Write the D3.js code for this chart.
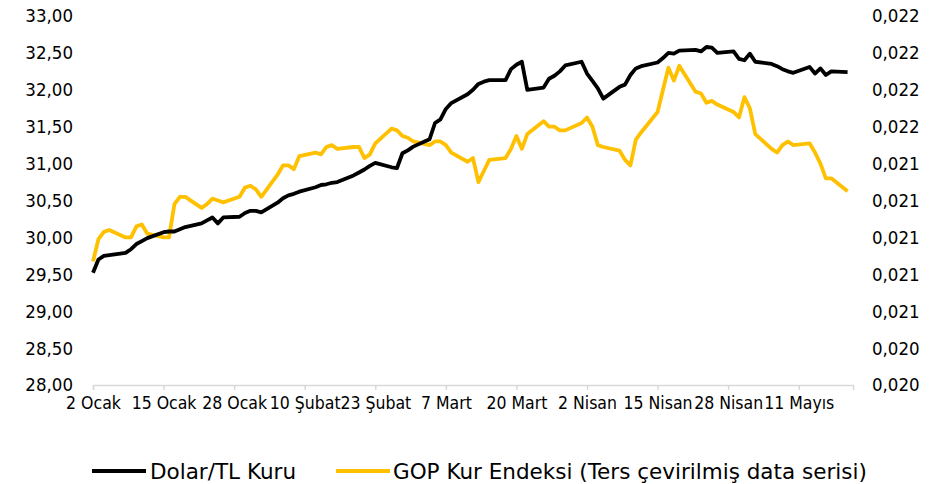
<!DOCTYPE html>
<html><head><meta charset="utf-8">
<script src="https://cdn.jsdelivr.net/npm/d3@7"></script>
<style>
html,body{margin:0;padding:0;background:#fff;}
text{font-family:"DejaVu Sans Condensed","DejaVu Sans",sans-serif;fill:#000;}
</style></head><body>
<svg id="chart" width="939" height="484"></svg>
<script>
const dates = ["2024-01-02","2024-01-03","2024-01-04","2024-01-05","2024-01-08","2024-01-09","2024-01-10","2024-01-11","2024-01-12",
"2024-01-15","2024-01-16","2024-01-17","2024-01-18","2024-01-19","2024-01-22","2024-01-23","2024-01-24","2024-01-25","2024-01-26",
"2024-01-29","2024-01-30","2024-01-31","2024-02-01","2024-02-02","2024-02-05","2024-02-06","2024-02-07","2024-02-08","2024-02-09",
"2024-02-12","2024-02-13","2024-02-14","2024-02-15","2024-02-16","2024-02-19","2024-02-20","2024-02-21","2024-02-22","2024-02-23",
"2024-02-26","2024-02-27","2024-02-28","2024-02-29","2024-03-01","2024-03-04","2024-03-05","2024-03-06","2024-03-07","2024-03-08",
"2024-03-11","2024-03-12","2024-03-13","2024-03-14","2024-03-15","2024-03-18","2024-03-19","2024-03-20","2024-03-21","2024-03-22",
"2024-03-25","2024-03-26","2024-03-27","2024-03-28","2024-03-29","2024-04-01","2024-04-02","2024-04-03","2024-04-04","2024-04-05",
"2024-04-08","2024-04-09","2024-04-10","2024-04-11","2024-04-12","2024-04-15","2024-04-16","2024-04-17","2024-04-18","2024-04-19",
"2024-04-22","2024-04-23","2024-04-24","2024-04-25","2024-04-26","2024-04-29","2024-04-30","2024-05-01","2024-05-02","2024-05-03",
"2024-05-06","2024-05-07","2024-05-08","2024-05-09","2024-05-10","2024-05-13","2024-05-14","2024-05-15","2024-05-16","2024-05-17",
"2024-05-20"];
const usdTry = [29.52,29.70,29.75,29.76,29.79,29.84,29.91,29.95,29.99,
30.07,30.08,30.08,30.11,30.14,30.19,30.23,30.27,30.19,30.27,
30.28,30.33,30.36,30.36,30.34,30.47,30.53,30.57,30.59,30.62,
30.68,30.71,30.72,30.74,30.75,30.84,30.88,30.92,30.97,31.01,
30.95,30.94,31.14,31.18,31.23,31.33,31.55,31.60,31.74,31.82,
31.94,32.00,32.08,32.11,32.13,32.13,32.28,32.34,32.38,32.00,
32.03,32.15,32.19,32.25,32.33,32.38,32.22,32.12,32.02,31.88,
32.04,32.07,32.20,32.29,32.32,32.37,32.43,32.50,32.49,32.53,
32.54,32.52,32.58,32.57,32.50,32.52,32.42,32.40,32.49,32.38,
32.35,32.32,32.28,32.25,32.23,32.31,32.22,32.29,32.20,32.25,
32.24];
const gopIndex = [0.02087,0.02099,0.02103,0.02104,0.02100,0.02100,0.02106,0.02107,0.02102,
0.02100,0.02100,0.02118,0.02122,0.02122,0.02116,0.02118,0.02121,0.02120,0.02119,
0.02122,0.02127,0.02128,0.02126,0.02122,0.02134,0.02139,0.02139,0.02137,0.02144,
0.02146,0.02145,0.02149,0.02150,0.02148,0.02149,0.02149,0.02143,0.02145,0.02151,
0.02159,0.02158,0.02155,0.02154,0.02152,0.02150,0.02152,0.02152,0.02150,0.02146,
0.02141,0.02143,0.02130,0.02136,0.02142,0.02143,0.02148,0.02155,0.02148,0.02156,
0.02163,0.02160,0.02160,0.02158,0.02158,0.02162,0.02165,0.02160,0.02150,0.02149,
0.02147,0.02142,0.02139,0.02153,0.02157,0.02168,0.02180,0.02192,0.02185,0.02193,
0.02179,0.02178,0.02173,0.02174,0.02172,0.02168,0.02165,0.02176,0.02170,0.02156,
0.02148,0.02146,0.02150,0.02152,0.02150,0.02151,0.02146,0.02140,0.02132,0.02132,
0.02125];
const leftTicks = [28,28.5,29,29.5,30,30.5,31,31.5,32,32.5,33];
const rightTicks = [0.0202,0.0204,0.0206,0.0208,0.0210,0.0212,0.0214,0.0216,0.0218,0.0220,0.0222];
const xTickDates = ["2024-01-02","2024-01-15","2024-01-28","2024-02-10","2024-02-23","2024-03-07","2024-03-20","2024-04-02","2024-04-15","2024-04-28","2024-05-11"];
const monthsTR = ["Ocak","Şubat","Mart","Nisan","Mayıs","Haziran","Temmuz","Ağustos","Eylül","Ekim","Kasım","Aralık"];
const seriesNames = ["Dolar/TL Kuru","GOP Kur Endeksi (Ters çevirilmiş data serisi)"];

const parse = d3.utcParse("%Y-%m-%d");
const svg = d3.select("#chart");
const x = d3.scaleUtc().domain([parse("2024-01-02"), parse("2024-05-21")]).range([93, 853]);
const yL = d3.scaleLinear().domain([28,33]).range([385,16]);
const yR = d3.scaleLinear().domain([0.0202,0.0222]).range([385,16]);

const fmtL = d => d3.format(".2f")(d).replace(".", ",");
const fmtR = d => d3.format(".3f")(d).replace(".", ",");

// x axis
const xa = svg.append("g").attr("transform","translate(0,385)")
  .call(d3.axisBottom(x).tickValues(xTickDates.map(parse)).tickSize(5).tickPadding(7)
    .tickFormat(d => d.getUTCDate() + " " + monthsTR[d.getUTCMonth()]));
xa.select(".domain").attr("stroke","#d9d9d9").attr("stroke-width",1.5);
xa.selectAll(".tick line").attr("stroke","#d9d9d9").attr("stroke-width",1.5);
xa.selectAll("text").style("font-size","17.5px").attr("fill","#000");

// left axis
const la = svg.append("g").attr("transform","translate(73,0)")
  .call(d3.axisLeft(yL).tickValues(leftTicks).tickSize(0).tickPadding(0).tickFormat(fmtL));
la.select(".domain").remove();
la.selectAll("text").style("font-size","18.5px").attr("fill","#000");

// right axis
const ra = svg.append("g").attr("transform","translate(872,0)")
  .call(d3.axisRight(yR).tickValues(rightTicks).tickSize(0).tickPadding(0).tickFormat(fmtR));
ra.select(".domain").remove();
ra.selectAll("text").style("font-size","18.5px").attr("fill","#000");

const pts = dates.map((d,i)=>({d:parse(d), u:usdTry[i], g:gopIndex[i]}));
svg.append("path").datum(pts).attr("fill","none").attr("stroke","#FFC000").attr("stroke-width",3.8)
  .attr("stroke-linejoin","round").attr("d", d3.line().x(p=>x(p.d)).y(p=>yR(p.g)));
svg.append("path").datum(pts).attr("fill","none").attr("stroke","#000").attr("stroke-width",3.8)
  .attr("stroke-linejoin","round").attr("d", d3.line().x(p=>x(p.d)).y(p=>yL(p.u)));

// legend
const lg = svg.append("g");
const legendItems = [{name:seriesNames[0], color:"#000", x0:92, x1:146, tx:150},
                     {name:seriesNames[1], color:"#FFC000", x0:336, x1:390, tx:393}];
legendItems.forEach(it=>{
  lg.append("line").attr("x1",it.x0).attr("x2",it.x1).attr("y1",471).attr("y2",471)
    .attr("stroke",it.color).attr("stroke-width",4);
  lg.append("text").attr("x",it.tx).attr("y",479).style("font-family","'DejaVu Sans',sans-serif")
    .style("font-size","21.5px").text(it.name);
});
</script></body></html>
